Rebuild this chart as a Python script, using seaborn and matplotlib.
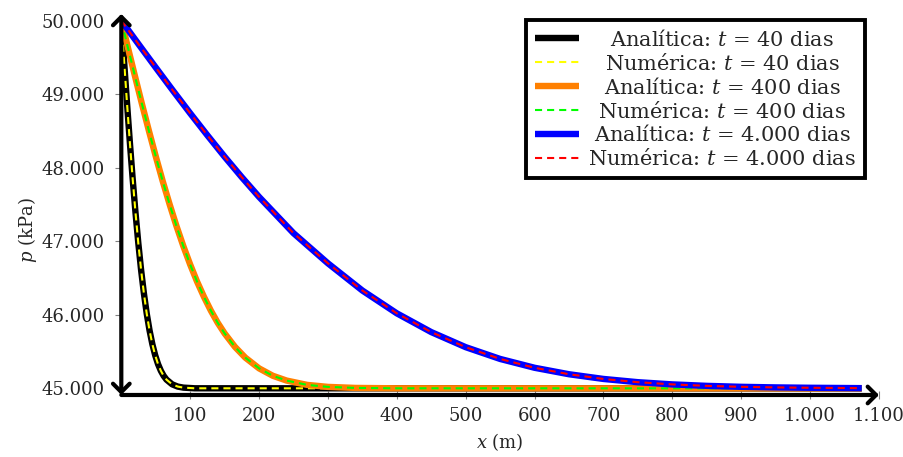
import matplotlib
matplotlib.use("Agg")
import matplotlib.pyplot as plt
import seaborn as sns
from matplotlib.ticker import FixedLocator, FuncFormatter
from matplotlib.transforms import Affine2D

# Pressure profiles p(x) along the reservoir (x in m, p in kPa)
x_40 = [0, 4.1, 8.2, 12.3, 16.4, 20.5, 24.6, 28.7, 32.8, 36.9, 41, 45.1, 49.2,
        53.3, 57.4, 61.5, 65.6, 73.8, 82, 90.2, 106.6, 1075]
p_40 = [50000, 49438, 48887, 48357, 47858, 47398, 46981, 46611, 46290, 46016,
        45787, 45599, 45449, 45330, 45239, 45170, 45119, 45055, 45024, 45010,
        45001, 45000]

x_400 = [0, 10, 20, 30, 40, 50, 60, 70, 80, 90, 100, 110, 120, 130, 140, 150,
         165, 180, 200, 220, 240, 270, 300, 340, 400, 1075]
p_400 = [50000, 49617, 49238, 48865, 48504, 48154, 47820, 47506, 47209, 46935,
         46683, 46451, 46244, 46057, 45891, 45747, 45564, 45418, 45272, 45171,
         45106, 45047, 45020, 45006, 45001, 45000]

x_4000 = [0, 25, 50, 75, 100, 125, 150, 175, 200, 250, 300, 350, 400, 450, 500,
          550, 600, 650, 700, 750, 800, 850, 900, 950, 1000, 1075]
p_4000 = [50000, 49680, 49362, 49048, 48740, 48440, 48149, 47870, 47603, 47110,
          46700, 46330, 46020, 45765, 45560, 45400, 45280, 45192, 45128, 45084,
          45054, 45034, 45021, 45013, 45008, 45003]

labels_an = ["Analítica: $t$ = 40 dias", "Analítica: $t$ = 400 dias",
             "Analítica: $t$ = 4.000 dias"]
labels_num = ["Numérica: $t$ = 40 dias", "Numérica: $t$ = 400 dias",
              "Numérica: $t$ = 4.000 dias"]
colors_an = ["#000000", "#ff8000", "#0000ff"]
colors_num = ["#ffff00", "#00ff00", "#ff0000"]

x_ticks = [100, 200, 300, 400, 500, 600, 700, 800, 900, 1000, 1100]
y_ticks = [45000, 46000, 47000, 48000, 49000, 50000]

sns.set_theme(style="white")
plt.rcParams["font.family"] = ["DejaVu Serif"]
plt.rcParams["mathtext.fontset"] = "dejavuserif"
FS = 13
FS_LEG = 15

fig = plt.figure(figsize=(9.04, 4.57), dpi=100)
ax = fig.add_axes([0.1342, 0.1357, 0.8381, 0.8337])

series = [(x_40, p_40), (x_400, p_400), (x_4000, p_4000)]
for (xs, ps), la, ln, ca, cn in zip(series, labels_an, labels_num, colors_an, colors_num):
    sns.lineplot(x=xs, y=ps, ax=ax, color=ca, lw=4.6, label=la, sort=False,
                 estimator=None, solid_capstyle="butt", solid_joinstyle="round")
    sns.lineplot(x=xs, y=ps, ax=ax, color=cn, lw=1.5, label=ln, sort=False,
                 estimator=None, linestyle=(0, (3.4, 2.4)), dash_joinstyle="round")

ax.set_xlim(0, 1100)
ax.set_ylim(44910, 50090)
for s in ax.spines.values():
    s.set_visible(False)

fmt = FuncFormatter(lambda v, pos: f"{int(round(v)):,}".replace(",", "."))
ax.xaxis.set_major_locator(FixedLocator(x_ticks))
ax.yaxis.set_major_locator(FixedLocator(y_ticks))
ax.xaxis.set_major_formatter(fmt)
ax.yaxis.set_major_formatter(fmt)
ax.tick_params(axis="x", direction="inout", length=6, width=0.8, color="#808080",
               pad=6, labelsize=FS, bottom=True)
ax.tick_params(axis="y", direction="out", length=4, width=0.8, color="#808080",
               pad=8, labelsize=FS, left=True)

# axis lines with open arrow heads
arrow_kw = dict(lw=3, color="black", shrinkA=0, shrinkB=0, mutation_scale=20)
ax.annotate("", xy=(1, 0), xytext=(0, 0), xycoords="axes fraction",
            arrowprops=dict(arrowstyle="->, head_length=0.3, head_width=0.3", **arrow_kw),
            annotation_clip=False, zorder=10)
ax.annotate("", xy=(0, 1), xytext=(0, 0), xycoords="axes fraction",
            arrowprops=dict(arrowstyle="<->, head_length=0.3, head_width=0.3", **arrow_kw),
            annotation_clip=False, zorder=10)

ax.set_xlabel("$x$ (m)", fontsize=FS, labelpad=4)
ax.set_ylabel("$p$ (kPa)", fontsize=FS)
ax.yaxis.set_label_coords(-0.109, 0.433)

handles, labels = ax.get_legend_handles_labels()
leg = ax.legend(handles, labels, loc="upper right", bbox_to_anchor=(865 / 904, 1 - 20 / 457),
                bbox_transform=fig.transFigure, borderaxespad=0, fontsize=FS_LEG,
                handlelength=2.1, handletextpad=0.45, labelspacing=0.14,
                borderpad=0.42, fancybox=False, framealpha=1, edgecolor="black")
leg.get_frame().set_linewidth(2.8)
leg.set_zorder(20)

# center the legend entries within their column
fig.canvas.draw()
rend = fig.canvas.get_renderer()
texts = leg.get_texts()
widths = [t.get_window_extent(rend).width for t in texts]
wmax = max(widths)
for t, w in zip(texts, widths):
    t.set_transform(t.get_transform() + Affine2D().translate((wmax - w) / 2, 0))

fig.savefig("out.png", dpi=100)
